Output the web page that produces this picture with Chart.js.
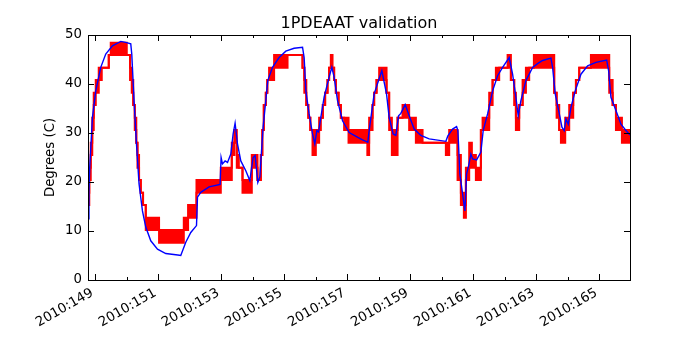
<!DOCTYPE html>
<html>
<head>
<meta charset="utf-8">
<script src="https://cdn.jsdelivr.net/npm/chart.js@4"></script>
<style>
  html, body { margin: 0; padding: 0; background: #fff; }
  #wrap { width: 700px; height: 350px; }
</style>
</head>
<body>
<div id="wrap"><canvas id="chart"></canvas></div>
<script>
// day-of-year (2010) for the red step data; each value holds until the next day
const redDay = [
  148.762, 148.81, 148.857, 148.905, 148.952, 149.016, 149.111, 149.206, 149.429, 149.492,
  150.0, 150.105, 150.159, 150.206, 150.254, 150.302, 150.34, 150.39, 150.444, 150.517,
  150.603, 151.025, 151.81, 151.946, 152.213, 152.984, 153.333, 153.413, 153.492, 153.556,
  153.673, 153.968, 154.149, 154.254, 154.302, 154.349, 154.413, 154.46, 154.517, 154.676,
  155.102, 155.578, 155.635, 155.698, 155.762, 155.825, 155.895, 156.0, 156.105, 156.159,
  156.222, 156.295, 156.371, 156.422, 156.476, 156.53, 156.581, 156.635, 156.721, 156.794,
  156.898, 157.038, 157.635, 157.692, 157.8, 157.851, 157.927, 158.01, 158.244, 158.327,
  158.413, 158.594, 158.752, 158.962, 159.175, 159.387, 160.127, 160.232, 160.498, 160.603,
  160.698, 160.762, 160.867, 160.952, 161.079, 161.238, 161.292, 161.502, 161.61, 161.714,
  161.819, 162.086, 162.19, 162.295, 162.349, 162.454, 162.562, 162.667, 162.771, 162.92,
  163.565, 163.641, 163.724, 163.778, 163.914, 164.041, 164.168, 164.254, 164.359, 164.73,
  165.311, 165.419, 165.524, 165.714, 165.97
];
// lower / upper quantization level the red signal jitters between
const redLo = [
  15.3, 20.4, 25.5, 30.6, 35.7, 38.2, 40.8, 43.3, 45.9, 45.9,
  45.9, 40.8, 38.2, 35.7, 30.6, 28.0, 22.9, 20.4, 17.8, 15.3,
  10.2, 7.6, 10.2, 12.7, 17.8, 20.4, 25.5, 28.0, 22.9, 22.9,
  17.8, 22.9, 20.4, 25.5, 30.6, 35.7, 38.2, 40.8, 40.8, 43.3,
  45.9, 43.3, 38.2, 35.7, 33.1, 30.6, 25.5, 28.0, 30.6, 33.1,
  35.7, 38.2, 40.8, 43.3, 43.3, 43.3, 40.8, 38.2, 35.7, 33.1,
  30.6, 28.0, 25.5, 30.6, 35.7, 38.2, 40.8, 40.8, 38.2, 30.6,
  25.5, 33.1, 33.1, 30.6, 28.0, 28.0, 25.5, 28.0, 20.4, 15.3,
  12.7, 20.4, 22.9, 22.9, 20.4, 30.6, 30.6, 35.7, 40.8, 40.8,
  43.3, 43.3, 40.8, 35.7, 30.6, 35.7, 38.2, 40.8, 43.3, 43.3,
  38.2, 33.1, 30.6, 28.0, 30.6, 33.1, 38.2, 40.8, 43.3, 43.3,
  38.2, 35.7, 30.6, 28.0, 28.0
];
const redHi = [
  17.8, 22.9, 28.0, 33.1, 38.2, 40.8, 43.3, 43.3, 45.9, 48.4,
  45.9, 43.3, 40.8, 35.7, 33.1, 28.0, 25.5, 20.4, 17.8, 15.3,
  12.7, 10.2, 12.7, 15.3, 20.4, 22.9, 28.0, 30.6, 25.5, 22.9,
  20.4, 25.5, 20.4, 25.5, 30.6, 35.7, 38.2, 40.8, 43.3, 45.9,
  45.9, 43.3, 40.8, 35.7, 33.1, 30.6, 30.6, 30.6, 33.1, 33.1,
  35.7, 38.2, 40.8, 43.3, 45.9, 43.3, 40.8, 38.2, 35.7, 33.1,
  33.1, 30.6, 28.0, 33.1, 35.7, 38.2, 40.8, 43.3, 38.2, 33.1,
  30.6, 33.1, 35.7, 33.1, 30.6, 28.0, 28.0, 30.6, 25.5, 17.8,
  15.3, 22.9, 28.0, 25.5, 22.9, 30.6, 33.1, 38.2, 40.8, 43.3,
  43.3, 45.9, 40.8, 38.2, 33.1, 35.7, 40.8, 43.3, 43.3, 45.9,
  38.2, 35.7, 30.6, 30.6, 33.1, 35.7, 38.2, 40.8, 43.3, 45.9,
  40.8, 35.7, 33.1, 30.6, 30.6
];

// blue (smooth) series
const blueDay = [
  148.77, 148.8, 148.825, 148.911, 149.016, 149.175, 149.333, 149.546, 149.81, 149.968,
  150.127, 150.159, 150.232, 150.308, 150.39, 150.498, 150.603, 150.762, 150.975, 151.238,
  151.619, 151.714, 151.873, 152.032, 152.213, 152.244, 152.349, 152.613, 152.962, 152.994,
  153.038, 153.121, 153.197, 153.302, 153.375, 153.438, 153.514, 153.619, 153.778, 153.905,
  154.01, 154.073, 154.159, 154.222, 154.327, 154.476, 154.625, 154.835, 155.048, 155.311,
  155.578, 155.629, 155.683, 155.787, 155.895, 155.968, 156.032, 156.086, 156.159, 156.263,
  156.422, 156.508, 156.581, 156.689, 156.848, 157.057, 157.333, 157.483, 157.651, 157.692,
  157.851, 157.99, 158.095, 158.244, 158.327, 158.454, 158.54, 158.625, 158.698, 158.835,
  158.962, 159.121, 159.333, 159.597, 160.127, 160.19, 160.34, 160.467, 160.508, 160.571,
  160.657, 160.73, 160.784, 160.848, 160.921, 160.975, 161.102, 161.238, 161.311, 161.451,
  161.61, 161.768, 161.927, 162.137, 162.244, 162.349, 162.422, 162.508, 162.667, 162.879,
  163.048, 163.197, 163.46, 163.514, 163.597, 163.705, 163.81, 163.883, 163.937, 164.01,
  164.095, 164.232, 164.413, 164.625, 164.889, 165.229, 165.292, 165.365, 165.524, 165.683,
  165.841, 165.97
];
const blueVal = [
  12.5, 18.0, 23.0, 33.2, 38.6, 43.4, 46.1, 47.8, 48.7, 48.5,
  48.2, 46.1, 36.6, 27.8, 19.6, 14.1, 10.8, 8.0, 6.3, 5.4,
  5.1, 5.0, 7.7, 9.7, 11.1, 16.9, 17.9, 19.0, 19.5, 25.0,
  23.7, 24.3, 24.0, 25.7, 29.8, 32.0, 27.8, 24.3, 22.3, 20.3,
  25.0, 25.4, 19.9, 21.0, 31.2, 40.7, 43.4, 45.4, 46.7, 47.3,
  47.5, 45.4, 38.6, 33.9, 29.8, 27.8, 30.5, 30.2, 33.2, 37.3,
  41.4, 43.4, 41.4, 36.6, 32.5, 30.1, 29.1, 28.6, 28.1, 30.5,
  38.0, 40.7, 42.7, 38.0, 33.2, 29.8, 29.5, 33.5, 34.0, 35.8,
  33.5, 30.8, 29.5, 28.8, 28.3, 29.4, 30.8, 31.3, 30.5, 21.6,
  17.6, 14.1, 21.6, 23.3, 25.7, 24.7, 24.5, 26.1, 30.5, 33.9,
  38.6, 41.7, 43.4, 45.4, 42.0, 37.3, 33.5, 36.6, 40.7, 43.4,
  44.2, 44.8, 45.3, 43.4, 38.0, 34.6, 31.2, 30.5, 32.9, 31.8,
  35.2, 38.6, 42.0, 43.7, 44.4, 44.9, 42.7, 37.3, 34.6, 31.8,
  30.5, 29.6
];

const yTicks = [0, 10, 20, 30, 40, 50];

const toXY = (xs, ys) => xs.map((x, i) => ({ x: x, y: ys[i] }));

// matplotlib-style inward tick marks on all four sides + frame
const frameTicks = {
  id: 'frameTicks',
  afterDraw(chart) {
    const { ctx, chartArea: a, scales } = chart;
    ctx.save();
    ctx.strokeStyle = '#000';
    ctx.lineWidth = 1;
    ctx.beginPath();
    scales.x.ticks.forEach(t => {
      const px = Math.round(scales.x.getPixelForValue(t.value)) + 0.5;
      const len = Math.round(t.value) % 2 === 1 ? 6 : 3;
      ctx.moveTo(px, a.bottom); ctx.lineTo(px, a.bottom - len);
      ctx.moveTo(px, a.top); ctx.lineTo(px, a.top + len);
    });
    scales.y.ticks.forEach(t => {
      const py = Math.round(scales.y.getPixelForValue(t.value)) + 0.5;
      ctx.moveTo(a.left, py); ctx.lineTo(a.left + 6, py);
      ctx.moveTo(a.right, py); ctx.lineTo(a.right - 6, py);
    });
    ctx.stroke();
    ctx.strokeRect(Math.round(a.left) + 0.5, Math.round(a.top) + 0.5,
      Math.round(a.right - a.left), Math.round(a.bottom - a.top));
    ctx.restore();
  }
};

const font = { family: 'DejaVu Sans', size: 13.3 };

new Chart(document.getElementById('chart'), {
  type: 'line',
  data: {
    datasets: [
      {
        label: 'blue',
        data: toXY(blueDay, blueVal),
        borderColor: '#0000ff',
        borderWidth: 1.4,
        pointRadius: 0,
        fill: false,
        order: 0,
      },
      {
        label: 'red low',
        data: toXY(redDay, redLo),
        stepped: true,
        borderColor: '#ff0000',
        borderWidth: 2,
        pointRadius: 0,
        fill: false,
        order: 2,
      },
      {
        label: 'red high',
        data: toXY(redDay, redHi),
        stepped: true,
        borderColor: '#ff0000',
        backgroundColor: '#ff0000',
        borderWidth: 2,
        pointRadius: 0,
        fill: '-1',
        order: 1,
      },
    ],
  },
  options: {
    responsive: true,
    maintainAspectRatio: false,
    animation: false,
    parsing: false,
    layout: { padding: { left: 0, right: 70, top: 0, bottom: 0 } },
    plugins: {
      legend: { display: false },
      tooltip: { enabled: false },
      title: {
        display: true,
        text: '1PDEAAT validation',
        fullSize: false,
        color: '#000',
        font: { family: 'DejaVu Sans', size: 16, weight: 'normal' },
        padding: { top: 14, bottom: 1.8 },
      },
    },
    scales: {
      x: {
        type: 'linear',
        min: 148.77,
        max: 165.97,
        grid: { display: false, drawTicks: false },
        border: { display: false },
        afterFit: s => { s.height = 70; },
        ticks: {
          stepSize: 1,
          includeBounds: false,
          autoSkip: false,
          minRotation: 30,
          maxRotation: 30,
          padding: 5,
          labelOffset: -3,
          color: '#000',
          font: font,
          callback: v => (Math.round(v) % 2 === 1 ? '2010:' + v : ''),
        },
      },
      y: {
        min: 0,
        max: 50,
        grid: { display: false, drawTicks: false },
        border: { display: false },
        afterFit: s => { s.width = 88; },
        afterBuildTicks: s => { s.ticks = yTicks.map(v => ({ value: v })); },
        title: {
          display: true,
          text: 'Degrees (C)',
          color: '#000',
          font: font,
          padding: { top: 43, bottom: 0 },
        },
        ticks: { color: '#000', font: font, padding: 6 },
      },
    },
  },
  plugins: [frameTicks],
});
</script>
</body>
</html>
